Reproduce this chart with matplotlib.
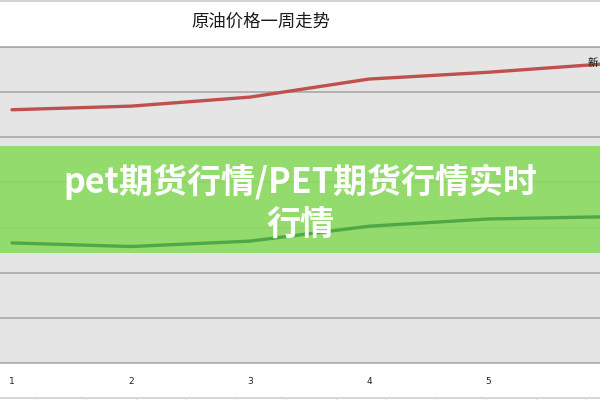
import matplotlib
matplotlib.use("Agg")
import matplotlib.pyplot as plt
from matplotlib.patches import Rectangle
from matplotlib.lines import Line2D

plt.rcParams['font.family'] = ['Noto Sans CJK SC', 'DejaVu Sans']

# Data
days = [1, 2, 3, 4, 5, 6]
tick_positions = [1, 2, 3, 4, 5]
tick_labels = ['1', '2', '3', '4', '5']
red_series = [56.1, 56.9, 58.9, 62.9, 64.4, 66.3]
green_series = [26.6, 25.8, 27.0, 30.3, 31.9, 32.4]
title = '原油价格一周走势'
banner_text = 'pet期货行情/PET期货行情实时\n行情'
series_label = '新'

W, H = 600, 400
fig = plt.figure(figsize=(6, 4), dpi=100)
fig.patch.set_facecolor('white')

def fx(px):
    return px / W

def fy(py):
    return 1 - py / H

ax = fig.add_axes([0, fy(363), 1, fy(47) - fy(363)])
ax.set_facecolor('#e5e5e5')
ax.set_xlim(1 - 12 / 119, 1 + 588 / 119)
ax.set_ylim(0, 70)
ax.set_yticks(range(0, 71, 10))
ax.yaxis.grid(True, color='#a8a8a8', linewidth=1.2)
ax.set_axisbelow(True)
ax.tick_params(axis='y', left=False, labelleft=False)
ax.set_xticks(tick_positions)
ax.set_xticklabels(tick_labels, fontsize=6.5, color='#222222', family=['DejaVu Sans'])
ax.tick_params(axis='x', length=0, pad=10)
for s in ['left', 'right']:
    ax.spines[s].set_visible(False)
ax.spines['top'].set_color('#a8a8a8')
ax.spines['bottom'].set_color('#b0b0b0')
ax.spines['top'].set_linewidth(1.2)
ax.spines['bottom'].set_linewidth(1.2)

ax.plot(days, red_series, color='#c0504d', linewidth=2.4, solid_capstyle='round', zorder=3)
ax.plot(days, green_series, color='#4fa845', linewidth=2.4, solid_capstyle='round', zorder=6)

# Banner overlay
banner = Rectangle((0, fy(253)), 1, fy(146) - fy(253), transform=fig.transFigure,
                   facecolor='#88da5c', alpha=0.88, edgecolor='none', zorder=5)
ax.add_artist(banner)
banner.set_clip_on(False)

fig.text(fx(300), fy(203), banner_text, ha='center', va='center', color='white',
         fontsize=24.5, fontweight='bold', linespacing=1.3, zorder=10)

fig.text(fx(261), fy(22), title, ha='center', va='center', fontsize=12.5, color='#1a1a1a')
fig.text(fx(588), fy(63), series_label, ha='left', va='center', fontsize=7.5, color='#111111')

# spreadsheet cell borders
fig.add_artist(Line2D([0, 1], [fy(1), fy(1)], transform=fig.transFigure, color='#c8c8c8', linewidth=1.2))
fig.add_artist(Line2D([0, 1], [fy(398), fy(398)], transform=fig.transFigure, color='#d0d0d0', linewidth=1.2))
for px in range(36, 600, 50):
    fig.add_artist(Line2D([fx(px), fx(px)], [fy(398), fy(400)], transform=fig.transFigure,
                          color='#dddddd', linewidth=0.8))

fig.savefig('out.png', dpi=100, facecolor='white')
